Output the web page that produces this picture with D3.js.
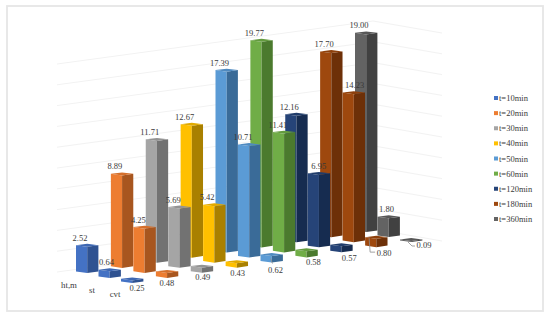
<!DOCTYPE html>
<html>
<head>
<meta charset="utf-8">
<script src="https://cdn.jsdelivr.net/npm/d3@7"></script>
<style>
  body { margin: 0; background: #fff; }
  text { font-family: "Liberation Serif", serif; fill: #3a3a3a; }
</style>
</head>
<body>
<div id="chart"></div>
<script>
// Data
const timeLabels = ["t=10min", "t=20min", "t=30min", "t=40min", "t=50min", "t=60min", "t=120min", "t=180min", "t=360min"];
const rowLabels = ["ht,m", "st", "cvt"];
const htValues = [2.52, 8.89, 11.71, 12.67, 17.39, 19.77, 12.16, 17.70, 19.00];
const stValues = [0.64, 4.25, 5.69, 5.42, 10.71, 11.41, 6.95, 14.23, 1.80];
const cvtValues = [0.25, 0.48, 0.49, 0.43, 0.62, 0.58, 0.57, 0.80, 0.09];
const gridTicks = [0, 2, 4, 6, 8, 10, 12, 14, 16, 18, 20];
const lightColors = ["#4472c4", "#ed7d31", "#a5a5a5", "#ffc000", "#5b9bd5", "#70ad47", "#264478", "#9e480e", "#636363"];
const darkColors = ["#2f5291", "#a8561f", "#727272", "#a98000", "#3a6b98", "#4b7a2e", "#162c50", "#6d3008", "#414141"];

// Label nudges, the originals were moved by hand to clear the bars
const stLabelShift = [8, 5, 5, 4, 5, 5, 11, 12, 9];
const cvtLabelShift = [16, 11, 12, 12, 15, 18, 19, 19, 24];
const cvtLabelDrop = [8, 8, 7, 8, 10, 8, 9, 9, 6];

// Leader lines in the front row, offsets from the bar's base point
const leaderSeries = [4, 7, 8];
const leaderOffsets = [
    [[10, -4], [12, 1]],
    [[4, -9], [5, 5], [10, 5]],
    [[8, 0], [12, 4], [15, 4]]
];

const width = 550, height = 316;

const svg = d3.select("#chart").append("svg")
    .attr("width", width)
    .attr("height", height);

// Frame
svg.append("rect")
    .attr("x", 7).attr("y", 6)
    .attr("width", 536).attr("height", 305)
    .attr("fill", "#fff")
    .attr("stroke", "#e6e6e6")
    .attr("stroke-width", 1.8);

// Fake 3D projection: series index and row index both shift the base point
const seriesX = d3.scaleLinear().domain([0, 8]).range([76, 355]);
const seriesY = d3.scaleLinear().domain([0, 8]).range([273, 232]);
const rowDx = d3.scaleLinear().domain([0, 2]).range([0, 45]);
const rowDy = d3.scaleLinear().domain([0, 2]).range([0, 10]);
const barHeight = d3.scaleLinear().domain([0, 20]).range([0, 208]);
const halfWidth = 11.2;
const topRise = 1.6;

// Back walls
const wallX = d3.scaleLinear().domain([0, 1]).range([57, 373]);
const wallY = d3.scaleLinear().domain([0, 1]).range([272, 229]);
const sideX = d3.scaleLinear().domain([0, 1]).range([373, 442]);
const sideY = d3.scaleLinear().domain([0, 1]).range([229, 241]);

const grid = svg.append("g").attr("fill", "none").attr("stroke", "#f2f2f2").attr("stroke-width", 1);
gridTicks.forEach(t => {
    const h = barHeight(t);
    grid.append("path").attr("d", d3.line()([
        [wallX(0), wallY(0) - h],
        [wallX(1), wallY(1) - h],
        [sideX(1), sideY(1) - h]
    ]));
});

const rows = [htValues, stValues, cvtValues];

function drawBar(g, s, r, v) {
    const x = seriesX(s) + rowDx(r);
    const y = seriesY(s) + rowDy(r);
    const h = barHeight(v);
    const xm = x + halfWidth, xr = x + 2 * halfWidth;
    g.append("polygon")
        .attr("points", [[x, y - topRise], [xm, y], [xm, y - h], [x, y - h - topRise]].join(" "))
        .attr("fill", lightColors[s]);
    g.append("polygon")
        .attr("points", [[xm, y], [xr, y - topRise], [xr, y - h - topRise], [xm, y - h]].join(" "))
        .attr("fill", darkColors[s]);
    g.append("polygon")
        .attr("points", [[x, y - h - topRise], [xm, y - h], [xr, y - h - topRise], [xm, y - h - 3]].join(" "))
        .attr("fill", d3.interpolateRgb(lightColors[s], darkColors[s])(0.35));
}

// Paint back to front so the nearer rows cover the far ones
const bars = svg.append("g");
rows.forEach((vals, r) => {
    vals.forEach((v, s) => drawBar(bars, s, r, v));
});

// Leader lines for the small bars in the front row
const leaders = svg.append("g").attr("fill", "none").attr("stroke", "#8c8c8c").attr("stroke-width", 0.8);
leaderSeries.forEach((s, i) => {
    const x = seriesX(s) + rowDx(2);
    const y = seriesY(s) + rowDy(2);
    leaders.append("path").attr("d", d3.line()(leaderOffsets[i].map(o => [x + o[0], y + o[1]])));
});

// Value labels
const fmt = d3.format(".2f");
const labels = svg.append("g").attr("font-size", 8.5).attr("text-anchor", "middle");
htValues.forEach((v, s) => {
    labels.append("text")
        .attr("x", seriesX(s) + 4)
        .attr("y", seriesY(s) - barHeight(v) - 6)
        .text(fmt(v));
});
stValues.forEach((v, s) => {
    labels.append("text")
        .attr("x", seriesX(s) + rowDx(1) + stLabelShift[s])
        .attr("y", seriesY(s) + rowDy(1) - barHeight(v) - 6)
        .text(fmt(v));
});
cvtValues.forEach((v, s) => {
    labels.append("text")
        .attr("x", seriesX(s) + rowDx(2) + cvtLabelShift[s])
        .attr("y", seriesY(s) + rowDy(2) + cvtLabelDrop[s])
        .text(fmt(v));
});

// Row labels
const rowLabelX = d3.scaleLinear().domain([0, 2]).range([69, 115]);
const rowLabelY = d3.scaleLinear().domain([0, 2]).range([288, 297]);
rowLabels.forEach((d, i) => {
    svg.append("text")
        .attr("x", rowLabelX(i)).attr("y", rowLabelY(i))
        .attr("font-size", 8.8).attr("text-anchor", "middle")
        .text(d);
});

// Legend
const legendY = d3.scalePoint().domain(timeLabels).range([98, 219]);
const legend = svg.append("g");
timeLabels.forEach((d, i) => {
    legend.append("rect")
        .attr("x", 494).attr("y", legendY(d) - 2)
        .attr("width", 4).attr("height", 4)
        .attr("fill", lightColors[i]);
    legend.append("text")
        .attr("x", 499).attr("y", legendY(d) + 3)
        .attr("font-size", 8.5)
        .text(d);
});
</script>
</body>
</html>
